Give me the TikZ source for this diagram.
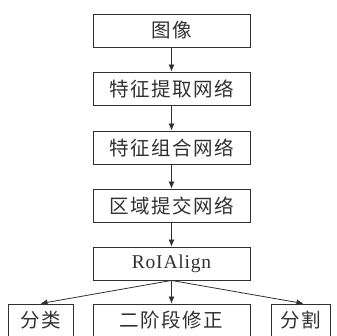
\documentclass[tikz,border=0pt]{standalone}
\usepackage{fontspec}
\setmainfont[LetterSpace=4]{Liberation Serif}
\newfontfamily\cjk[LetterSpace=8]{Noto Sans CJK SC}
\usetikzlibrary{arrows.meta}
\definecolor{ln}{HTML}{303030}
\begin{document}
\begin{tikzpicture}[x=1pt,y=-1pt,
  box/.style={draw=ln,line width=0.9pt,minimum height=33pt,inner sep=0pt,text=ln,font=\fontsize{19.5}{19.5}\selectfont\cjk},
  arr/.style={draw=ln,line width=0.8pt,-{Latex[length=7pt,width=6pt]}}]
\useasboundingbox (0,0) rectangle (336,336);
\node[box,minimum width=157pt] (b1) at (171.5,30.5) {图像};
\node[box,minimum width=157pt] (b2) at (171.5,88.5) {特征提取网络};
\node[box,minimum width=157pt] (b3) at (171.5,147.5) {特征组合网络};
\node[box,minimum width=157pt] (b4) at (171.5,205.5) {区域提交网络};
\node[box,minimum width=157pt,font=\fontsize{19.5}{19.5}\selectfont\rmfamily] (b5) at (171.5,263.5) {RoIAlign};
\node[box,minimum width=65pt] (l) at (40.5,320.5) {分类};
\node[box,minimum width=157pt] (m) at (171.5,320.5) {二阶段修正};
\node[box,minimum width=59pt] (r) at (300.5,320.5) {分割};
\draw[arr] (b1) -- (b2);
\draw[arr] (b2) -- (b3);
\draw[arr] (b3) -- (b4);
\draw[arr] (b4) -- (b5);
\draw[arr] (b5.south) -- (m);
\draw[arr] (b5.south) -- (l.north);
\draw[arr] (b5.south) -- ([xshift=3pt]r.north);
\end{tikzpicture}
\end{document}
